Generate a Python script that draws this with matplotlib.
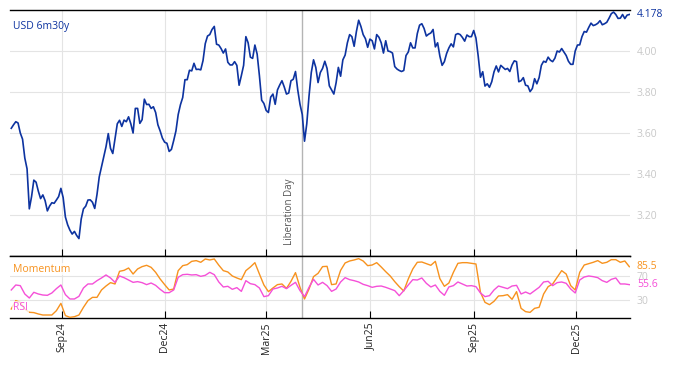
import matplotlib
matplotlib.use('Agg')
import matplotlib.pyplot as plt
import matplotlib.dates as mdates
import pandas as pd

plt.rcParams['font.family'] = ['Open Sans', 'DejaVu Sans']

# ---------------- data ----------------
series_label = 'USD 6m30y'
swap_start = '2024-07-18'
swap_values = [
    3.623, 3.64, 3.655, 3.649, 3.60, 3.57, 3.478, 3.425, 3.23, 3.29,
    3.37, 3.36, 3.316, 3.28, 3.298, 3.27, 3.22, 3.244, 3.26, 3.257,
    3.273, 3.29, 3.33, 3.285, 3.19, 3.152, 3.126, 3.107, 3.12, 3.10,
    3.085, 3.18, 3.23, 3.243, 3.273, 3.274, 3.262, 3.232, 3.30, 3.386,
    3.435, 3.482, 3.533, 3.597, 3.525, 3.50, 3.574, 3.645, 3.662, 3.632,
    3.663, 3.655, 3.679, 3.645, 3.60, 3.72,
    3.72, 3.647, 3.665, 3.765, 3.739, 3.74, 3.72, 3.728, 3.70, 3.64,
    3.61, 3.575, 3.555, 3.55, 3.51, 3.52, 3.563, 3.61, 3.69, 3.738,
    3.773, 3.86, 3.86, 3.906, 3.903, 3.94, 3.91, 3.911, 3.908, 3.953,
    4.036, 4.073, 4.08, 4.105, 4.12, 4.033, 4.029, 4.012, 3.99, 4.01,
    3.945, 3.932, 3.932, 3.948, 3.93, 3.833, 3.88, 3.93, 4.07, 4.04,
    3.97, 3.964, 4.029, 3.985,
    3.88, 3.76, 3.744, 3.71, 3.70, 3.775, 3.79, 3.74, 3.81, 3.834,
    3.855, 3.825, 3.79, 3.795, 3.855, 3.862, 3.90, 3.81, 3.74, 3.69,
    3.56, 3.645, 3.78, 3.895, 3.957, 3.92, 3.846, 3.895, 3.915, 3.95,
    3.915, 3.83, 3.81, 3.79, 3.845, 3.92, 3.877, 3.957, 3.98, 4.04,
    4.08, 4.07, 4.023, 4.095, 4.15, 4.12, 4.08, 4.06, 4.018, 4.058,
    4.05, 4.01, 4.08, 4.067,
    4.04, 3.99, 4.05, 4.00, 3.997, 3.99, 3.924, 3.912, 3.905, 3.90,
    3.905, 3.978, 3.995, 4.04, 4.015, 4.015, 4.085, 4.126, 4.133, 4.11,
    4.073, 4.082, 4.088, 4.105, 4.02, 4.04, 3.975, 3.93, 3.948, 3.988,
    4.015, 4.035, 4.02, 4.08, 4.085, 4.08, 4.066, 4.048, 4.078, 4.07,
    4.07, 4.10, 4.063, 3.975, 3.872, 3.899, 3.829, 3.84, 3.823, 3.85,
    3.898, 3.927, 3.898, 3.93,
    3.92, 3.91, 3.915, 3.90, 3.932, 3.952, 3.948, 3.85, 3.855, 3.87,
    3.833, 3.83, 3.802, 3.817, 3.865, 3.84, 3.87, 3.93, 3.95, 3.945,
    3.97, 3.955, 3.948, 3.965, 4.00, 3.995, 4.012, 3.995, 3.978, 3.95,
    3.935, 3.935, 4.00, 4.029, 4.03, 4.07, 4.095, 4.092, 4.115, 4.136,
    4.124, 4.128, 4.135, 4.148, 4.128, 4.133, 4.14, 4.16, 4.182, 4.19,
    4.178, 4.159, 4.16, 4.178, 4.158, 4.175, 4.178,
]

ind_start = '2024-07-18'
momentum = [
    15, 29, 26, 15, 9.5, 9, 6.7, 5, 5, 5,
    12.2, 24.4, 4, 1.1, 2.2, 5, 17.8, 29, 34.4, 34.4,
    46.7, 53.3, 58.9, 56.7, 77.8, 79.4, 83.3, 73.3, 81.7, 85.6,
    87.8, 84.4, 76.1, 65, 55.6, 46.7, 48.3, 78.9, 87.2, 88.9,
    94.4, 95.6, 92.8, 98.3, 96.7, 98.3,
    88, 78.9, 76.7, 70, 66.7, 63.9, 78.9, 85, 92.2, 73.3,
    55, 43.9, 50, 55.6, 56.7, 49.4, 61.1, 75.6, 51.1, 31.7,
    48.3, 68.9, 74.4, 85.6, 86.1, 55.6, 56.7, 79.4, 91.7, 95,
    96.7, 98.9, 95, 87.2, 88.3, 92.2, 85, 77.2, 70, 60.6,
    52.2, 45, 65, 81.7, 92.8, 93.3,
    90.6, 87.8, 94.4, 65.6, 52.8, 58.3, 76.1, 91.1, 92.2, 92.2,
    91.1, 90, 42.8, 26.1, 22.2, 27.8, 36.7, 37.2, 38.9, 31.1,
    43.9, 16.1, 10.6, 9.4, 16.1, 17.8, 40, 52.2, 56.7, 67.8,
    78.9, 73.3, 53.9, 46.7, 76.1, 88.3, 90.6, 92.8, 95.6, 91.1,
    92.8, 97.2, 97.2, 92.8, 95, 85.5,
]
rsi = [
    46.7, 55, 53.9, 40, 33.3, 42.8, 40, 38.3, 37.8, 41.7,
    48.9, 55, 38.9, 31.7, 31.7, 36.1, 50, 56.7, 56.7, 62.2,
    66.7, 71.7, 66.7, 59.4, 70, 67.2, 63.3, 59.4, 60.6, 58.9,
    55.6, 58.3, 54.4, 47.8, 42.2, 42.2, 46.7, 67.8, 72.2, 72.8,
    71.7, 72.2, 69.4, 71.1, 76.1, 72.2,
    60, 51.7, 52.8, 47.8, 50.6, 44.4, 62.2, 57.2, 55.6, 50,
    35.6, 37.2, 48.3, 50, 52.8, 48.9, 54.4, 59.4, 45.6, 35.6,
    51.1, 64.4, 55, 59.4, 53.9, 44.4, 48.3, 60, 67.2, 63.9,
    62.2, 60, 56.1, 53.9, 51.1, 52.8, 53.3, 51.1, 48.3, 45.6,
    37.2, 45.6, 55, 63.9, 63.3, 66.7,
    57.8, 51.7, 55, 44.4, 37.8, 51.7, 53.9, 60, 56.7, 53.3,
    53.9, 52.2, 41.7, 35.6, 37.2, 46.7, 53.3, 51.1, 48.9, 53.3,
    54.4, 40, 43.3, 40, 45.6, 51.1, 60, 61.1, 53.9, 58.9,
    60, 57.8, 48.3, 41.7, 63.3, 68.3, 70, 68.9, 67.2, 62.2,
    59.4, 64.4, 66.7, 56.7, 56.7, 55.6,
]

event_date = '2025-04-02'
event_label = 'Liberation Day'
price_ticks = [3.2, 3.4, 3.6, 3.8, 4.0]
ind_ticks = [30, 70]

# ---------------- style ----------------
C_MAIN = '#0d33a0'
C_MOM = '#f7921e'
C_RSI = '#f550d8'
C_GRID = '#e4e4e4'
C_TICKLBL = '#c8c8c8'
FS = 7.5

dates = pd.date_range(swap_start, periods=len(swap_values), freq='2D')
ind_dates = pd.date_range(ind_start, periods=len(momentum), freq='4D')
xmin = pd.Timestamp('2024-07-16 21:00')
xmax = pd.Timestamp('2026-01-17 14:00')

fig = plt.figure(figsize=(6.74, 3.67), dpi=100)
W, H = 674, 367
ax = fig.add_axes([10 / W, (H - 256) / H, 620 / W, 246 / H])
ax2 = fig.add_axes([10 / W, (H - 318) / H, 620 / W, 62 / H], sharex=ax)

for a in (ax, ax2):
    for s in ('left', 'right'):
        a.spines[s].set_visible(False)
    for s in ('top', 'bottom'):
        a.spines[s].set_color('black')
        a.spines[s].set_linewidth(1.0)
    a.xaxis.set_major_locator(mdates.MonthLocator(bymonth=[3, 6, 9, 12]))
    a.xaxis.set_major_formatter(mdates.DateFormatter('%b%y'))
    a.grid(True, color=C_GRID, linewidth=0.8)
    a.set_axisbelow(True)
    a.yaxis.tick_right()
    a.tick_params(axis='y', length=0, pad=5, labelsize=FS, labelcolor=C_TICKLBL)
    a.tick_params(axis='x', direction='in', length=5, width=0.8, color='black')
    a.axvline(pd.Timestamp(event_date), color='#b4b4b4', linewidth=1.0, zorder=1)

# main panel
ax.plot(dates, swap_values, color=C_MAIN, linewidth=1.2, zorder=3)
ax.set_ylim(3.0, 4.2)
ax.set_yticks(price_ticks)
ax.set_yticklabels([f'{v:.2f}' for v in price_ticks])
ax.set_xlim(xmin, xmax)
ax.tick_params(axis='x', labelbottom=False)
ax.text(3 / 620, 1 - 16 / 246, series_label, transform=ax.transAxes,
        ha='left', va='center', fontsize=FS, color=C_MAIN)
ax.annotate(f'{swap_values[-1]:.3f}', xy=(1, swap_values[-1]),
            xycoords=('axes fraction', 'data'), xytext=(5, 0),
            textcoords='offset points', ha='left', va='center',
            fontsize=FS, color=C_MAIN)
ax.annotate(event_label, xy=(pd.Timestamp(event_date), 3.055),
            xytext=(-9.5, 0), textcoords='offset points', rotation=90,
            ha='center', va='bottom', fontsize=7, color='#555555')

# indicator panel
ax2.plot(ind_dates, momentum, color=C_MOM, linewidth=1.0, zorder=3)
ax2.plot(ind_dates, rsi, color=C_RSI, linewidth=1.0, zorder=3)
ax2.set_ylim(0, 103.3)
ax2.set_yticks(ind_ticks)
ax2.set_yticklabels([str(v) for v in ind_ticks])
ax2.tick_params(axis='x', labelsize=FS, labelrotation=90, pad=3, labelcolor='#222222')
bb = dict(facecolor='white', alpha=0.75, edgecolor='none', pad=0.5)
ax2.text(3 / 620, (318 - 269) / 62, 'Momentum', transform=ax2.transAxes,
         ha='left', va='center', fontsize=FS, color=C_MOM, bbox=bb, zorder=5)
ax2.text(3 / 620, (318 - 307) / 62, 'RSI', transform=ax2.transAxes,
         ha='left', va='center', fontsize=FS, color=C_RSI, bbox=bb, zorder=5)
for vals, col in ((momentum, C_MOM), (rsi, C_RSI)):
    ax2.annotate(f'{vals[-1]:.1f}', xy=(1, vals[-1]),
                 xycoords=('axes fraction', 'data'), xytext=(5, 0),
                 textcoords='offset points', ha='left', va='center',
                 fontsize=FS, color=col, annotation_clip=False)

fig.savefig('out.png', dpi=100)
